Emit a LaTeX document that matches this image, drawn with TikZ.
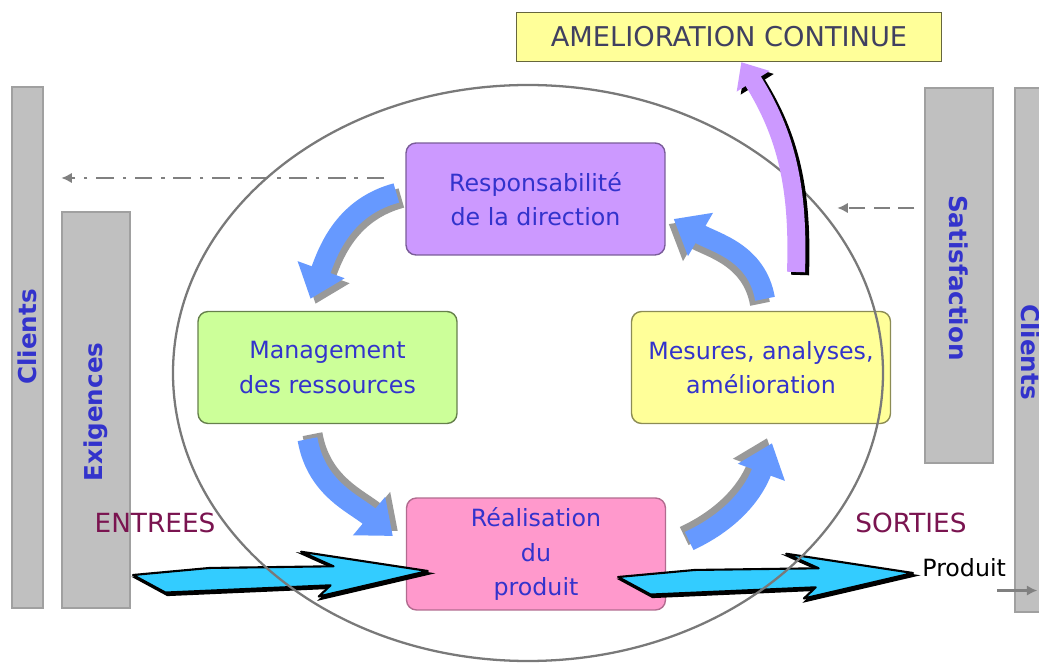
\documentclass[tikz,border=0pt]{standalone}
\usepackage{fontspec}
\setmainfont{DejaVu Sans}
\usetikzlibrary{arrows.meta,calc}

\definecolor{txtblue}{RGB}{51,51,204}
\definecolor{entree}{RGB}{122,20,80}
\definecolor{barfill}{RGB}{192,192,192}
\definecolor{barline}{RGB}{160,160,160}
\definecolor{respfill}{RGB}{204,153,255}
\definecolor{mgmtfill}{RGB}{204,255,153}
\definecolor{mesfill}{RGB}{255,255,153}
\definecolor{realfill}{RGB}{255,153,204}
\definecolor{cycleblue}{RGB}{102,153,255}
\definecolor{cyanfill}{RGB}{51,204,255}
\definecolor{titletxt}{RGB}{64,64,96}

\tikzset{
  box/.style={rounded corners=0.2cm, minimum width=5.18cm, minimum height=2.24cm,
    align=center, text=txtblue, font=\fontsize{13.5}{19.5}\selectfont, line width=0.8pt},
  bar/.style={fill=barfill, draw=barline, line width=0.8pt},
  side/.style={text=txtblue, font=\fontsize{14}{16}\selectfont\bfseries},
  flow/.style={line width=0.4cm, -{Triangle[length=0.62cm,width=0.96cm]}},
  amcarrow/.style={line width=0.36cm, -{Triangle[length=0.45cm,width=0.75cm]}},
  retour/.style={draw=gray, line width=1.2pt, -{Latex[length=6pt,width=6pt]}},
  fat/.style={fill=cyanfill, draw=black, line width=1.2pt, line join=round},
}

% outline of the wide hand drawn arrow
\newcommand\fatpath[2]{(#1) -- ($(#1)!0.26!(#2)+(0,6)$) -- ($(#1)!0.68!(#2)+(0,6)$)
    -- ($(#1)!0.57!(#2)+(0,21)$) -- (#2) -- ($(#1)!0.63!(#2)+(0,-24)$)
    -- ($(#1)!0.67!(#2)+(0,-13)$) -- ($(#1)!0.11!(#2)+(0,-18)$) -- cycle}
\newcommand\fatarrow[2]{%
  \filldraw[black, line width=1.2pt, transform canvas={shift={(2,-2.5)}}] \fatpath{#1}{#2};
  \filldraw[fat] \fatpath{#1}{#2};}
% cycle arrow with its shadow: shadow shift, path
\newcommand\cyclearrow[2]{%
  \draw[flow, gray!80, transform canvas={shift={#1}}] #2;
  \draw[flow, cycleblue] #2;}

\begin{document}
\begin{tikzpicture}[x=0.02cm, y=0.02cm]
  \useasboundingbox (0,0) rectangle (1039,-665);

  % clients side
  \node[bar, minimum width=0.62cm, minimum height=10.42cm] (clientsL) at (27.5,-347.5) {};
  \node[side, rotate=90] (clientsLt) at (27.5,-337) {Clients};
  \node[bar, minimum width=1.36cm, minimum height=7.92cm] (exig) at (96,-410) {};
  \node[side, rotate=90] (exigt) at (96,-412) {Exigences};
  \node[bar, minimum width=1.36cm, minimum height=7.5cm] (satis) at (959,-275.5) {};
  \node[side, rotate=-90] (satist) at (959,-278) {Satisfaction};
  \node[bar, minimum width=0.62cm, minimum height=10.48cm] (clientsR) at (1030.5,-350) {};
  \node[side, rotate=-90] (clientsRt) at (1030.5,-352) {Clients};

  % the four processes
  \node[box, fill=respfill, draw=respfill!60!black] (resp) at (535.5,-199) {Responsabilité\\de la direction};
  \node[box, fill=mgmtfill, draw=mgmtfill!50!black] (mgmt) at (327.5,-367.5) {Management\\des ressources};
  \node[box, fill=mesfill, draw=mesfill!55!black] (mes) at (761,-367.5) {Mesures, analyses,\\amélioration};
  \node[box, fill=realfill, draw=realfill!70!black] (real) at (536,-554) {Réalisation\\du\\produit};

  % feedback to and from the clients
  \coordinate (fbL) at ([shift={(-21,21)}]resp.west);
  \draw[retour, dash pattern=on 10pt off 5pt on 2pt off 5pt] (fbL) -- (fbL -| exig.west);
  \draw[retour, dash pattern=on 9pt off 5pt] ([shift={(-10,67.5)}]satis.west) -- ++(-77,0);

  % cycle
  \cyclearrow{(5,-5)}{([shift={(-9,6)}]resp.west) to[out=195,in=70] ([shift={(-17,12)}]mgmt.north)}
  \cyclearrow{(5,5)}{([shift={(-20,-15)}]mgmt.south) to[out=-80,in=140] ([shift={(-13,18)}]real.west)}
  \cyclearrow{(-5,5)}{([shift={(23,13)}]real.east) to[out=25,in=250] ([shift={(11,-19)}]mes.south)}
  \cyclearrow{(-5,-5)}{([shift={(4,12)}]mes.north) to[out=100,in=-30] ([shift={(8,-20)}]resp.east)}

  % inputs and outputs
  \node[text=entree, font=\fontsize{15}{18}\selectfont] (entrees) at (155,-523) {ENTREES};
  \node[text=entree, font=\fontsize{15}{18}\selectfont] (sorties) at (911,-523) {SORTIES};
  \node[font=\fontsize{13.5}{16}\selectfont, anchor=west, inner sep=0pt] (produit) at (922,-568) {Produit};
  \coordinate (e1) at (133,-575);
  \coordinate (e2) at ([shift={(22,-17)}]real.west);
  \coordinate (s1) at ([shift={(-48,-23)}]real.east);
  \coordinate (s2) at ([shift={(-9,-5)}]produit.west);
  \fatarrow{e1}{e2}
  \fatarrow{s1}{s2}
  \draw[retour, line width=1.4pt] ([shift={(-9,-13)}]produit.south east) -- ++(40,0);

  \draw[gray!95!black, line width=1.3pt] (528,-373) ellipse [x radius=355, y radius=288];

  % continual improvement
  \node[draw=mesfill!40!black, fill=mesfill, line width=0.8pt, minimum width=8.5cm, minimum height=0.98cm,
    text=titletxt, font=\fontsize{15.5}{18}\selectfont] (amc) at (729,-37) {AMELIORATION CONTINUE};
  \coordinate (amcfoot) at (796,-272);
  \draw[amcarrow, black, transform canvas={shift={(4,-3)}}] (amcfoot) to[out=88,in=-58] ([xshift=7]amc.south);
  \draw[amcarrow, respfill] (amcfoot) to[out=88,in=-58] ([xshift=7]amc.south);
\end{tikzpicture}
\end{document}
